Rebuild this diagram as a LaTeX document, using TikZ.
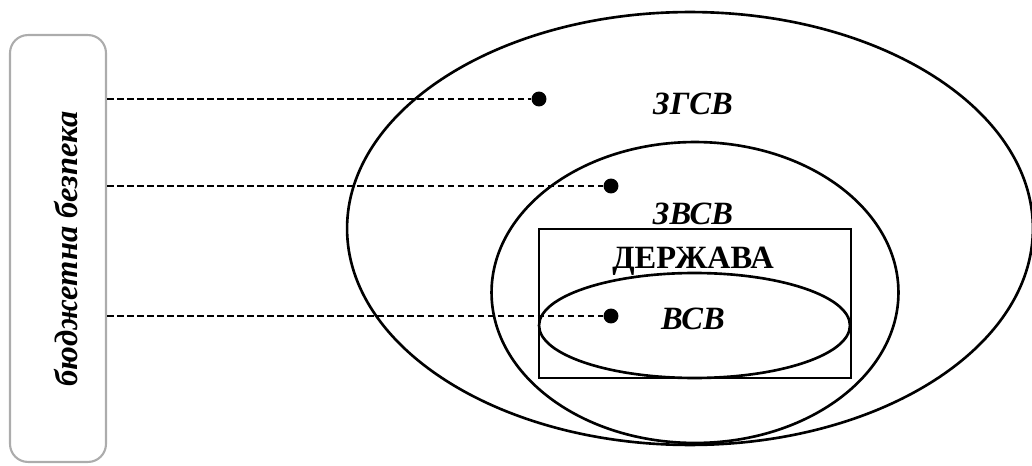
\documentclass[tikz,border=0pt]{standalone}
\usepackage{fontspec}
\setmainfont{Liberation Serif}
\usetikzlibrary{shapes.geometric}

\tikzset{
  oval/.style={draw, ellipse, line width=1.5pt, inner sep=0},
  dot/.style={circle, fill, inner sep=0, minimum size=8.5pt},
  lbl/.style={font=\fontsize{18.5}{20}\selectfont\bfseries\itshape},
  link/.style={line width=1.3pt, dash pattern=on 3.8pt off 1.9pt}
}

\begin{document}
\begin{tikzpicture}[x=0.02cm, y=-0.02cm]
  \useasboundingbox (0,0) rectangle (1032,466);

  \node (side) at (58,248.5) [draw=gray!65, line width=1.2pt, rounded corners=0.36cm, minimum width=1.92cm, minimum height=8.54cm]{};
  \node (sidetext) at (66,249) [lbl, rotate=90]{бюджетна безпека};

  \node (zgsv) at (690,228.5) [oval, minimum width=13.72cm, minimum height=8.66cm]{};
  \node (zvsv) at (695,292.5) [oval, minimum width=8.14cm, minimum height=6.02cm]{};
  \node (state) at (695,303.5) [draw, line width=1.4pt, minimum width=6.24cm, minimum height=2.98cm]{};
  \node (vsv) at (694.5,325.5) [oval, minimum width=6.22cm, minimum height=2.1cm]{};

  \node (zgsvtext) at (693,104) [lbl]{ЗГСВ};
  \node (zvsvtext) at (693,214) [lbl]{ЗВСВ};
  \node (statetext) at (693,261) [font=\fontsize{18.5}{20}\selectfont\bfseries]{ДЕРЖАВА};
  \node (vsvtext) at (693,319) [lbl]{ВСВ};

  \node (d1) at (539,99) [dot]{};
  \node (d2) at (611,186) [dot]{};
  \node (d3) at (611,316) [dot]{};

  \draw[link] (side.east |- d1) -- (d1);
  \draw[link] (side.east |- d2) -- (d2);
  \draw[link] (side.east |- d3) -- (d3);

\end{tikzpicture}
\end{document}
